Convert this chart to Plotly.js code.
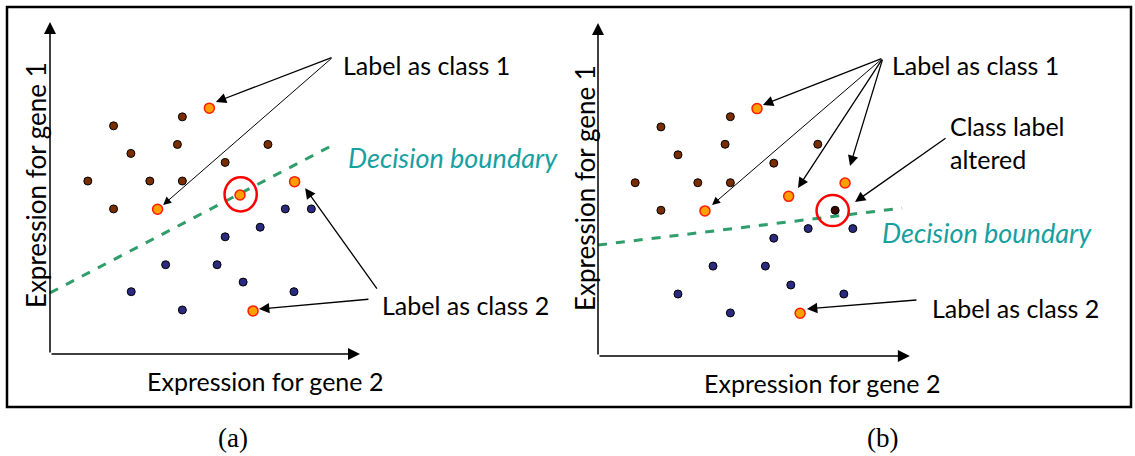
<!DOCTYPE html>
<html><head><meta charset="utf-8">
<script src="https://cdn.plot.ly/plotly-3.0.1.min.js"></script>
<style>html,body{margin:0;padding:0;background:#fff}#chart{width:1135px;height:456px}</style>
</head><body><div id="chart"></div>
<script>
// ---------- data (units along the two gene-expression axes) ----------
// panel (a)
const aClass1X = [2.05, 4.27, 2.61, 4.11, 7.03, 5.65, 1.22, 3.22, 4.27, 2.05];
const aClass1Y = [7.36, 7.65, 6.47, 6.76, 6.76, 6.18, 5.58, 5.58, 5.58, 4.68];
const aClass2X = [7.59, 8.43, 6.78, 5.65, 3.73, 5.39, 6.23, 2.62, 7.87, 4.27];
const aClass2Y = [4.68, 4.68, 4.09, 3.78, 2.88, 2.88, 2.32, 2.01, 2.01, 1.42];
const aNoisyX  = [5.14, 3.47, 6.13, 7.89, 6.55];
const aNoisyY  = [7.93, 4.67, 5.13, 5.56, 1.39];
const aBoundX  = [0, 9.03];
const aBoundY  = [1.97, 6.69];
// panel (b)
const bClass1X = [2.03, 4.27, 2.58, 4.10, 7.09, 5.67, 1.20, 3.22, 4.27, 2.03];
const bClass1Y = [7.39, 7.72, 6.49, 6.83, 6.83, 6.22, 5.59, 5.59, 5.59, 4.70];
const bClass2X = [6.78, 8.22, 5.67, 3.71, 5.40, 6.22, 2.58, 7.93, 4.27];
const bClass2Y = [4.11, 4.11, 3.80, 2.90, 2.90, 2.29, 2.00, 2.00, 1.39];
const bNoisyX  = [5.13, 3.45, 6.15, 7.97, 6.52];
const bNoisyY  = [7.98, 4.68, 5.15, 5.58, 1.38];
const bAlteredX = [7.65];
const bAlteredY = [4.70];
const bBoundX  = [0, 9.81];
const bBoundY  = [3.58, 4.77];

// text
const labelClass1 = "Label as class 1";
const labelClass2 = "Label as class 2";
const labelBoundary = "Decision boundary";
const labelAltered = "Class label<br>altered";
const xTitle = "Expression for gene 2";
const yTitle = "Expression for gene 1";
const panelTags = ["(a)", "(b)"];

// ---------- layout geometry ----------
const W = 1135, H = 456, PX = 31;
const panels = [
  {ox: 50, oy: 354, left: 8, right: 567},
  {ox: 598, oy: 356, left: 567, right: 1126}
];
const topPx = 8, bottomPx = 406;
function xr(p){ return [(p.left - p.ox)/PX, (p.right - p.ox)/PX]; }
function yr(p){ return [(p.oy - bottomPx)/PX, (p.oy - topPx)/PX]; }

const FONT = "Lato, 'Open Sans', sans-serif";
const brown = {color:'#7a2e00', size:8, line:{color:'#000', width:1}};
const navy  = {color:'#2a2a80', size:8, line:{color:'#000', width:1}};
const orange= {color:'#ffa000', size:10, line:{color:'#ff1a00', width:1.5}};
const dark  = {color:'#3a0800', size:8, line:{color:'#000', width:1}};
const dashLine = {color:'#2f9e6b', width:3, dash:'dash'};

function sc(x,y,m,xa,ya){ return {x:x,y:y,xaxis:xa,yaxis:ya,type:'scatter',mode:'markers',marker:m,hoverinfo:'skip'}; }
function ln(x,y,xa,ya){ return {x:x,y:y,xaxis:xa,yaxis:ya,type:'scatter',mode:'lines',line:dashLine,hoverinfo:'skip'}; }

const traces = [
  ln(aBoundX,aBoundY,'x','y'),
  sc(aClass1X,aClass1Y,brown,'x','y'),
  sc(aClass2X,aClass2Y,navy,'x','y'),
  sc(aNoisyX,aNoisyY,orange,'x','y'),
  ln(bBoundX,bBoundY,'x2','y2'),
  sc(bClass1X,bClass1Y,brown,'x2','y2'),
  sc(bClass2X,bClass2Y,navy,'x2','y2'),
  sc(bNoisyX,bNoisyY,orange,'x2','y2'),
  sc(bAlteredX,bAlteredY,dark,'x2','y2')
];

function arrow(xa,ya,fx,fy,tx,ty,w){
  return {xref:xa,yref:ya,axref:xa,ayref:ya,x:tx,y:ty,ax:fx,ay:fy,text:'',showarrow:true,
          arrowhead:2,arrowsize:1.6,arrowwidth:w||1.3,arrowcolor:'#000',standoff:0,startstandoff:0};
}
const LS = 25;
function txt(xa,ya,x,y,t,opts){
  return Object.assign({xref:xa,yref:ya,x:x,y:y,text:t,showarrow:false,xanchor:'left',yanchor:'middle',
          align:'left',font:{family:FONT,size:LS,color:'#000'}},opts||{});
}
const teal = {family:FONT,size:27,color:'#17a0a0'};
const ytf = {family:FONT,size:26,color:'#000'};
const tagf = {family:"'Liberation Serif', serif",size:27,color:'#000'};

const annotations = [
  // axis arrows
  arrow('x','y',0,0,10,0,1.5), arrow('x','y',0,0,0,10.71,1.5),
  arrow('x2','y2',0,0,10.06,0,1.5), arrow('x2','y2',0,0,0,10.74,1.5),
  // panel (a) pointers
  arrow('x','y',9.13,9.58,5.35,8.13), arrow('x','y',9.13,9.58,3.65,4.81,1),
  arrow('x','y',10.58,2.06,8.23,5.35), arrow('x','y',10.32,1.77,6.74,1.45),
  // panel (b) pointers
  arrow('x2','y2',9.19,9.61,5.32,8.10), arrow('x2','y2',9.19,9.61,3.68,4.87,1),
  arrow('x2','y2',9.19,9.61,6.45,5.42), arrow('x2','y2',9.19,9.61,8.13,6.13),
  arrow('x2','y2',11.26,7.06,8.29,4.97),
  arrow('x2','y2',10.32,1.81,6.74,1.52),
  // texts (a)
  txt('x','y',9.39,9.32,labelClass1),
  txt('x','y',9.55,6.35,'<i>'+labelBoundary+'</i>',{font:teal}),
  txt('x','y',10.65,1.58,labelClass2),
  txt('x','y',6.94,-0.87,xTitle,{xanchor:'center'}),
  txt('x','y',-0.45,5.45,yTitle,{xanchor:'center',textangle:-90,font:ytf}),
  // texts (b)
  txt('x2','y2',9.42,9.39,labelClass1),
  txt('x2','y2',11.29,6.9,labelAltered),
  txt('x2','y2',9.10,4.0,'<i>'+labelBoundary+'</i>',{font:teal}),
  txt('x2','y2',10.71,1.55,labelClass2),
  txt('x2','y2',7.23,-0.87,xTitle,{xanchor:'center'}),
  txt('x2','y2',-0.42,5.42,yTitle,{xanchor:'center',textangle:-90,font:ytf}),
  // panel tags
  {xref:'paper',yref:'paper',x:233/W,y:1-438/H,text:panelTags[0],showarrow:false,xanchor:'center',yanchor:'middle',font:tagf},
  {xref:'paper',yref:'paper',x:882/W,y:1-438/H,text:panelTags[1],showarrow:false,xanchor:'center',yanchor:'middle',font:tagf}
];

const shapes = [
  {type:'rect',xref:'paper',yref:'paper',x0:7/W,x1:1131/W,y0:1-407/H,y1:1-7/H,line:{color:'#000',width:2.5}},
  {type:'circle',xref:'x',yref:'y',x0:6.15-0.52,x1:6.15+0.52,y0:5.15-0.55,y1:5.15+0.55,line:{color:'#ff0000',width:2.5}},
  {type:'circle',xref:'x2',yref:'y2',x0:7.57-0.52,x1:7.57+0.52,y0:4.69-0.5,y1:4.69+0.5,line:{color:'#ff0000',width:2.5}}
];

function ax(range,dom){ return {range:range,domain:dom,visible:false,fixedrange:true}; }
const ydom = [1-bottomPx/H, 1-topPx/H];
const layout = {
  width:W, height:H, margin:{l:0,r:0,t:0,b:0}, paper_bgcolor:'#fff', plot_bgcolor:'rgba(0,0,0,0)',
  showlegend:false,
  xaxis: ax(xr(panels[0]), [panels[0].left/W, panels[0].right/W]),
  yaxis: ax(yr(panels[0]), ydom),
  xaxis2: ax(xr(panels[1]), [panels[1].left/W, panels[1].right/W]),
  yaxis2: ax(yr(panels[1]), ydom),
  annotations: annotations, shapes: shapes
};
Plotly.newPlot('chart', traces, layout, {staticPlot:true, displayModeBar:false});
</script></body></html>
